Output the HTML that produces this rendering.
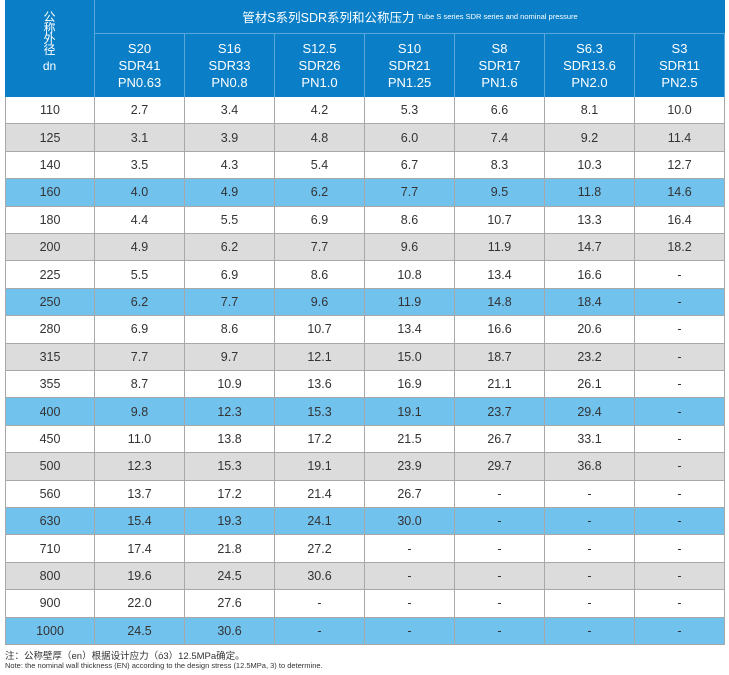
<!DOCTYPE html>
<html><head><meta charset="utf-8"><style>
body{margin:0;width:729px;height:675px;background:#fff;position:relative;overflow:hidden;font-family:"Liberation Sans","Noto Sans CJK SC",sans-serif;}
.c{position:absolute;box-sizing:border-box;display:flex;align-items:center;justify-content:center;text-align:center;font-size:12.5px;color:#333;}
.h{background:#0a7fc7;color:#fff;}
.v{display:block;padding-top:12px;}
</style></head><body>
<div id="tbl"></div>
<div style="position:absolute;left:5px;top:648px;font-size:9.5px;color:#333;">注：公称壁厚（en）根据设计应力（ό3）12.5MPa确定。</div>
<div style="position:absolute;left:5px;top:661px;font-size:7.5px;color:#333;">Note: the nominal wall thickness (EN) according to the design stress (12.5MPa, 3) to determine.</div>
<script>
const dn=["110","125","140","160","180","200","225","250","280","315","355","400","450","500","560","630","710","800","900","1000"];
const s1=["S20","S16","S12.5","S10","S8","S6.3","S3"];
const s2=["SDR41","SDR33","SDR26","SDR21","SDR17","SDR13.6","SDR11"];
const s3=["PN0.63","PN0.8","PN1.0","PN1.25","PN1.6","PN2.0","PN2.5"];
const S20=["2.7","3.1","3.5","4.0","4.4","4.9","5.5","6.2","6.9","7.7","8.7","9.8","11.0","12.3","13.7","15.4","17.4","19.6","22.0","24.5"];
const S16=["3.4","3.9","4.3","4.9","5.5","6.2","6.9","7.7","8.6","9.7","10.9","12.3","13.8","15.3","17.2","19.3","21.8","24.5","27.6","30.6"];
const S125=["4.2","4.8","5.4","6.2","6.9","7.7","8.6","9.6","10.7","12.1","13.6","15.3","17.2","19.1","21.4","24.1","27.2","30.6","-","-"];
const S10=["5.3","6.0","6.7","7.7","8.6","9.6","10.8","11.9","13.4","15.0","16.9","19.1","21.5","23.9","26.7","30.0","-","-","-","-"];
const S8=["6.6","7.4","8.3","9.5","10.7","11.9","13.4","14.8","16.6","18.7","21.1","23.7","26.7","29.7","-","-","-","-","-","-"];
const S63=["8.1","9.2","10.3","11.8","13.3","14.7","16.6","18.4","20.6","23.2","26.1","29.4","33.1","36.8","-","-","-","-","-","-"];
const S3=["10.0","11.4","12.7","14.6","16.4","18.2","-","-","-","-","-","-","-","-","-","-","-","-","-","-"];
const cols=[S20,S16,S125,S10,S8,S63,S3];
const T=document.getElementById('tbl');
const xs=[5,95,185,275,365,455,545,635,725];
function cell(x,y,w,h,txt,cls,style){const d=document.createElement('div');d.className='c '+cls;d.style.cssText+=`left:${x}px;top:${y}px;width:${w}px;height:${h}px;`+(style||'');d.innerHTML=txt;T.appendChild(d);return d;}
let d;
d=cell(5,0,90,97,'公<br>称<br>外<br>径<br><span style="display:block;margin-top:5px">dn</span>','h v','line-height:11px;font-size:12px;border-right:1px solid #5aa6d8;');


d=cell(95,0,630,34,'管材S系列SDR系列和公称压力<span style="font-size:7.5px;margin-left:3px">Tube S series SDR series and nominal pressure</span>','h','font-size:12.5px;border-bottom:1px solid #5aa6d8;');


for(let i=0;i<7;i++){
 d=cell(xs[i+1],34,90,63,s1[i]+'<br>'+s2[i]+'<br>'+s3[i],'h','flex-direction:column;line-height:17px;font-size:13px;border-right:1px solid #5aa6d8;');
 
 
}
const rh=27.4;
const bgs=['#fff','#dcdcdc','#fff','#72c2ee'];
for(let r=0;r<dn.length;r++){
 const y=97+r*rh;const bg=bgs[r%4];
 const st=`background:${bg};border-bottom:1px solid #a8a8a8;border-right:1px solid #a8a8a8;`;
 d=cell(5,y,90,rh,dn[r],'',st+'border-left:1px solid #a8a8a8;');
 
 
 for(let i=0;i<7;i++){
  d=cell(xs[i+1],y,90,rh,cols[i][r],'',st);
  
  
 }
}
</script>
</body></html>
